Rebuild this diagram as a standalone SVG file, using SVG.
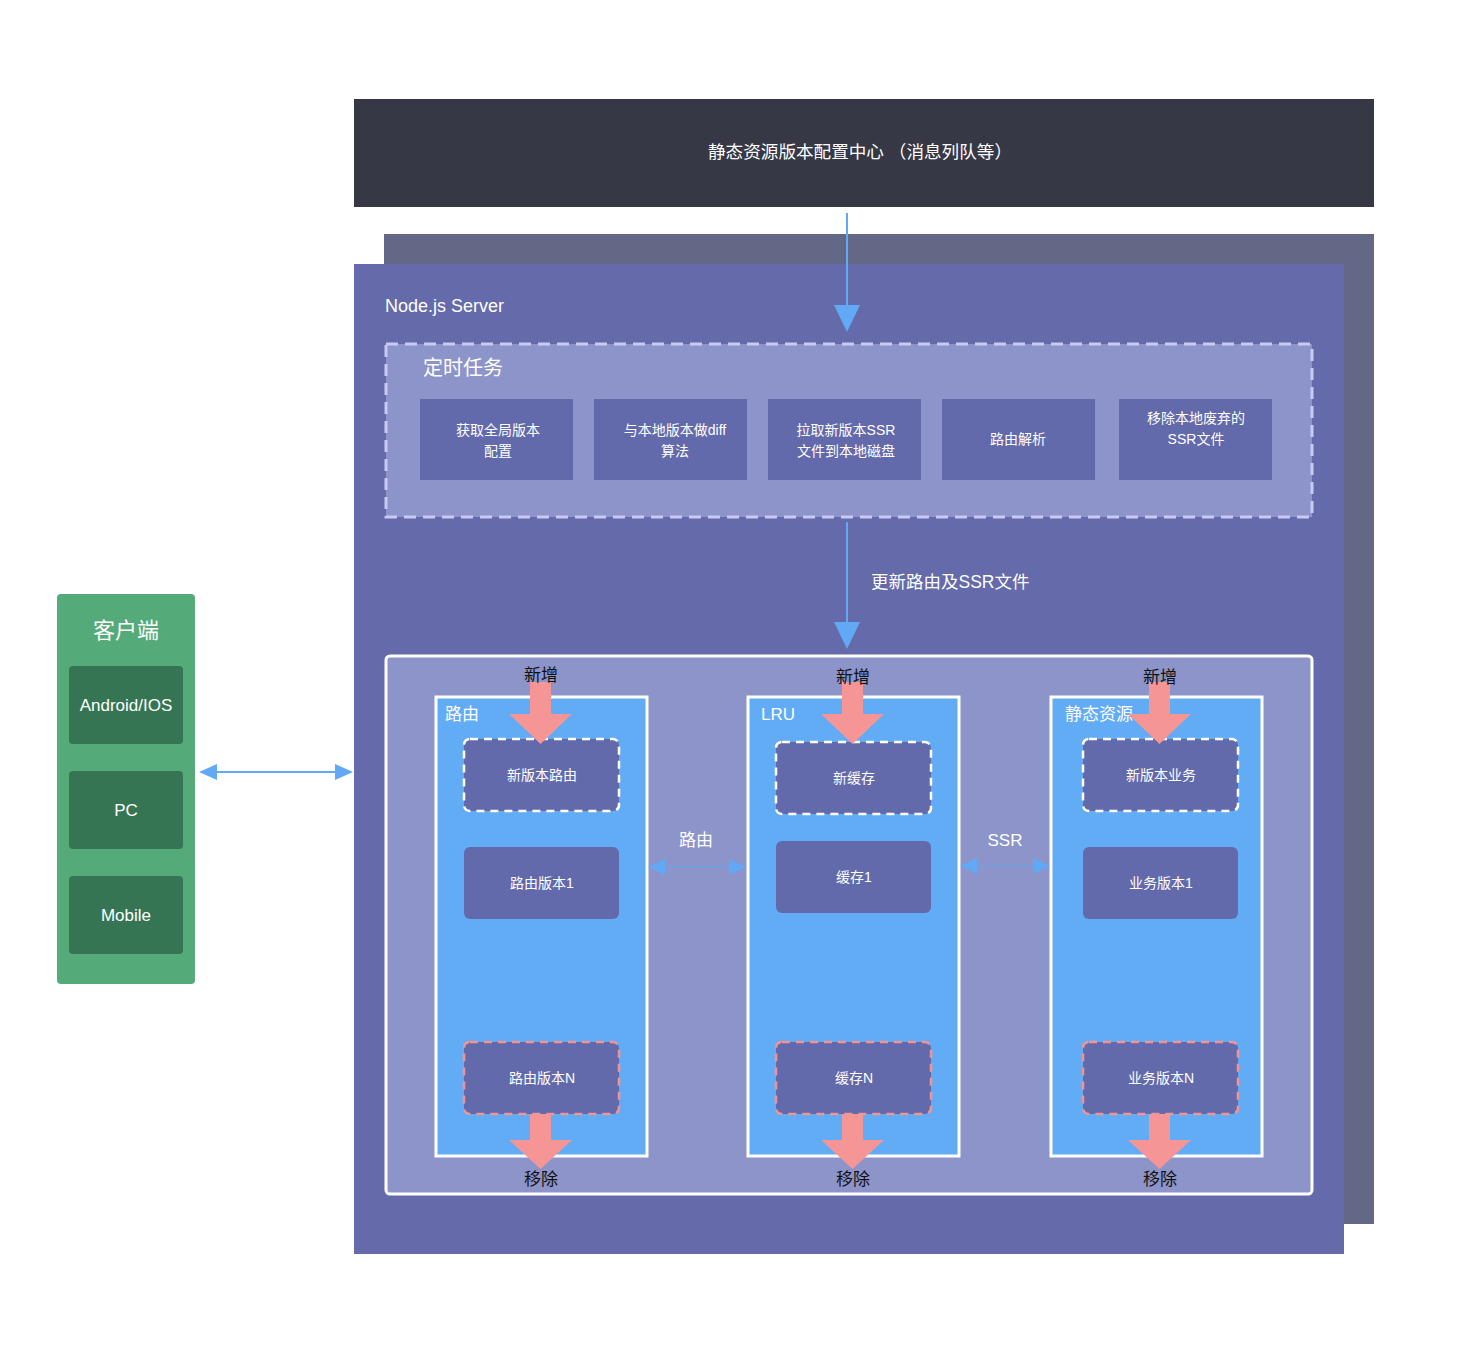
<svg xmlns="http://www.w3.org/2000/svg" width="1479" height="1359" viewBox="0 0 1479 1359">
<style>
text{font-family:"Liberation Sans","Noto Sans CJK SC",sans-serif;fill:#fff;dominant-baseline:central}
.c{text-anchor:middle}
.t14{font-size:14px}
.t17{font-size:17px}
.task{fill:#636aab}
.col{fill:#62abf5;stroke:#fff;stroke-width:3}
.nd{fill:#636aab}
.dw{stroke:#fff;stroke-width:2.5;stroke-dasharray:8 6}
.dp{stroke:#f49393;stroke-width:2.5;stroke-dasharray:8 6}
.cl{fill:#367553}
.blk{fill:#111}
.pk{fill:#f59595}
.bl{stroke:#61a9f5;stroke-width:2;fill:none}
.blt{stroke:#61a9f5;stroke-width:1;fill:none}
.ah{fill:#61a9f5}
</style>
<rect width="1479" height="1359" fill="#fff"/>
<g id="config-center">
<rect x="354" y="99" width="1020" height="108" fill="#373846"/>
<text class="c" x="860" y="152" style="font-size:17.6px">静态资源版本配置中心 （消息列队等）</text>
</g>
<g id="server">
<rect x="384" y="234" width="990" height="990" fill="#646887"/>
<rect x="354" y="264" width="990" height="990" fill="#646aaa"/>
<text x="385" y="306" style="font-size:18px">Node.js Server</text>
</g>
<g id="cron">
<rect x="386" y="344" width="926" height="173" fill="#8c94c9" stroke="#c9c9f6" stroke-width="3" stroke-dasharray="12 7"/>
<text x="423" y="368" style="font-size:20px">定时任务</text>
</g>
<g id="task1"><rect class="task" x="420" y="399" width="153" height="81"/><text class="c t14" x="498" y="430">获取全局版本</text><text class="c t14" x="498" y="451">配置</text></g>
<g id="task2"><rect class="task" x="594" y="399" width="153" height="81"/><text class="c t14" x="675" y="430">与本地版本做diff</text><text class="c t14" x="675" y="451">算法</text></g>
<g id="task3"><rect class="task" x="768" y="399" width="153" height="81"/><text class="c t14" x="846" y="430">拉取新版本SSR</text><text class="c t14" x="846" y="451">文件到本地磁盘</text></g>
<g id="task4"><rect class="task" x="942" y="399" width="153" height="81"/><text class="c t14" x="1018" y="439">路由解析</text></g>
<g id="task5"><rect class="task" x="1119" y="399" width="153" height="81"/><text class="c t14" x="1196" y="418">移除本地废弃的</text><text class="c t14" x="1196" y="439">SSR文件</text></g>
<g id="cache-area">
<rect x="386" y="656" width="926" height="538" rx="4" fill="#8c94c9" stroke="#fff" stroke-width="3"/>
</g>
<g id="col-route">
<rect class="col" x="436" y="697" width="211" height="459"/>
<text class="t17" x="445" y="714">路由</text>
</g>
<g id="col-lru">
<rect class="col" x="748" y="697" width="211" height="459"/>
<text class="t17" x="761" y="714">LRU</text>
</g>
<g id="col-static">
<rect class="col" x="1051" y="697" width="211" height="459"/>
<text class="t17" x="1065" y="714">静态资源</text>
</g>
<g id="route-new"><rect class="nd dw" x="464" y="739" width="155" height="72" rx="6"/><text class="c t14" x="542" y="775">新版本路由</text></g>
<g id="route-1"><rect class="nd" x="464" y="847" width="155" height="72" rx="6"/><text class="c t14" x="542" y="883">路由版本1</text></g>
<g id="route-n"><rect class="nd dp" x="464" y="1042" width="155" height="72" rx="6"/><text class="c t14" x="542" y="1078">路由版本N</text></g>
<g id="lru-new"><rect class="nd dw" x="776" y="742" width="155" height="72" rx="6"/><text class="c t14" x="854" y="778">新缓存</text></g>
<g id="lru-1"><rect class="nd" x="776" y="841" width="155" height="72" rx="6"/><text class="c t14" x="854" y="877">缓存1</text></g>
<g id="lru-n"><rect class="nd dp" x="776" y="1042" width="155" height="72" rx="6"/><text class="c t14" x="854" y="1078">缓存N</text></g>
<g id="static-new"><rect class="nd dw" x="1083" y="739" width="155" height="72" rx="6"/><text class="c t14" x="1161" y="775">新版本业务</text></g>
<g id="static-1"><rect class="nd" x="1083" y="847" width="155" height="72" rx="6"/><text class="c t14" x="1161" y="883">业务版本1</text></g>
<g id="static-n"><rect class="nd dp" x="1083" y="1042" width="155" height="72" rx="6"/><text class="c t14" x="1161" y="1078">业务版本N</text></g>
<g id="client">
<rect x="57" y="594" width="138" height="390" rx="4" fill="#54aa79"/>
<text class="c" x="126" y="630" style="font-size:22px">客户端</text>
</g>
<g id="client-android"><rect class="cl" x="69" y="666" width="114" height="78" rx="4"/><text class="c t17" x="126" y="705">Android/IOS</text></g>
<g id="client-pc"><rect class="cl" x="69" y="771" width="114" height="78" rx="4"/><text class="c t17" x="126" y="810">PC</text></g>
<g id="client-mobile"><rect class="cl" x="69" y="876" width="114" height="78" rx="4"/><text class="c t17" x="126" y="915">Mobile</text></g>
<g id="connectors">
<line class="bl" x1="847" y1="213" x2="847" y2="308"/>
<polygon class="ah" points="834,305 860,305 847,332"/>
<line class="bl" x1="847" y1="522" x2="847" y2="624"/>
<polygon class="ah" points="834,622 860,622 847,649"/>
<text x="871" y="582" style="font-size:17.5px">更新路由及SSR文件</text>
<line class="bl" x1="214" y1="772" x2="338" y2="772"/>
<polygon class="ah" points="199,772 217,764 217,780"/>
<polygon class="ah" points="353,772 335,764 335,780"/>
<line class="blt" x1="662" y1="867" x2="732" y2="867"/>
<polygon class="ah" points="648,867 665,859 665,875"/>
<polygon class="ah" points="746,867 729,859 729,875"/>
<text class="c t17" x="696" y="840">路由</text>
<line class="blt" x1="975" y1="866" x2="1036" y2="866"/>
<polygon class="ah" points="960,866 977,858 977,874"/>
<polygon class="ah" points="1050,866 1033,858 1033,874"/>
<text class="c t17" x="1005" y="840">SSR</text>
<polygon class="pk" points="530,682 551,682 551,714 572,714 540.5,744 509,714 530,714"/>
<polygon class="pk" points="842,682 863,682 863,714 884,714 852.5,744 821,714 842,714"/>
<polygon class="pk" points="1149,682 1170,682 1170,714 1191,714 1159.5,744 1128,714 1149,714"/>
<polygon class="pk" points="530,1114 551,1114 551,1140 572,1140 540.5,1169 509,1140 530,1140"/>
<polygon class="pk" points="842,1114 863,1114 863,1140 884,1140 852.5,1169 821,1140 842,1140"/>
<polygon class="pk" points="1149,1114 1170,1114 1170,1140 1191,1140 1159.5,1169 1128,1140 1149,1140"/>
<text class="c t17 blk" x="541" y="675">新增</text>
<text class="c t17 blk" x="853" y="677">新增</text>
<text class="c t17 blk" x="1160" y="677">新增</text>
<text class="c t17 blk" x="541" y="1179">移除</text>
<text class="c t17 blk" x="853" y="1179">移除</text>
<text class="c t17 blk" x="1160" y="1179">移除</text>
</g>
</svg>
